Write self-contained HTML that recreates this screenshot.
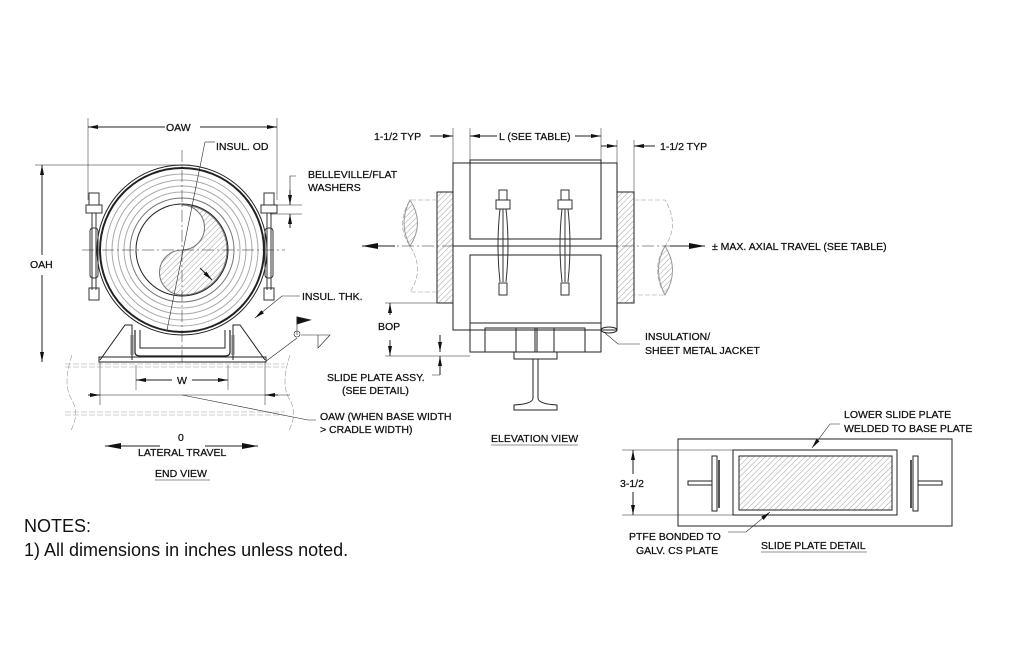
<!DOCTYPE html>
<html><head><meta charset="utf-8"><style>
html,body{margin:0;padding:0;background:#fff;}
svg{display:block;}
text{font-family:"Liberation Sans",sans-serif;font-size:10.5px;fill:#111;stroke:#111;stroke-width:0.25;}
.n{font-size:18px;fill:#111;stroke:none;}
</style></head><body>
<svg width="1024" height="662" viewBox="0 0 1024 662" xmlns="http://www.w3.org/2000/svg">
<defs>
<pattern id="h" width="4" height="4" patternUnits="userSpaceOnUse" patternTransform="rotate(45)">
<line x1="0" y1="0" x2="0" y2="4" stroke="#888" stroke-width="0.8"/></pattern>
<marker id="a" viewBox="0 0 10 4" refX="10" refY="2" markerWidth="10" markerHeight="4" orient="auto-start-reverse" markerUnits="userSpaceOnUse"><path d="M0,0 L10,2 L0,4z" fill="#111"/></marker>
<marker id="b" viewBox="0 0 16 6" refX="16" refY="3" markerWidth="16" markerHeight="6" orient="auto-start-reverse" markerUnits="userSpaceOnUse"><path d="M0,0 L16,3 L0,6z" fill="#111"/></marker>
</defs>
<g stroke="#222" fill="none" stroke-width="1">
<!-- END VIEW -->
<line x1="88" y1="118" x2="88" y2="200" stroke-width="0.5"/>
<line x1="277" y1="118" x2="277" y2="200" stroke-width="0.5"/>
<line x1="88" y1="127" x2="165" y2="127" marker-start="url(#a)"/>
<line x1="200" y1="127" x2="277" y2="127" marker-end="url(#a)"/>
<line x1="35" y1="165" x2="190" y2="165" stroke-width="0.5"/>
<line x1="42" y1="165" x2="42" y2="255" marker-start="url(#a)"/>
<line x1="42" y1="275" x2="42" y2="362" marker-end="url(#a)"/>
<circle cx="182" cy="250" r="85" stroke-width="1"/>
<circle cx="182" cy="250" r="82" stroke-width="2"/>
<circle cx="182" cy="250" r="76" stroke="#aaa"/>
<circle cx="182" cy="250" r="70" stroke="#aaa"/>
<circle cx="182" cy="250" r="64" stroke="#aaa"/>
<circle cx="182" cy="250" r="58" stroke="#aaa"/>
<circle cx="182" cy="250" r="52" stroke="#777"/>
<circle cx="182" cy="250" r="46"/>
<path d="M182,205 A45,45 0 0 1 182,295 A22,22 0 0 1 182,250 A22,22 0 0 0 182,205z" fill="url(#h)" stroke="#777"/>
<line x1="182" y1="150" x2="182" y2="365" stroke-width="0.5" stroke-dasharray="12,3,2,3"/>
<line x1="82" y1="250" x2="285" y2="250" stroke-width="0.5" stroke-dasharray="12,3,2,3"/>
<line x1="205" y1="142" x2="167" y2="330" stroke-width="0.6"/>
<line x1="205" y1="142" x2="215" y2="142" stroke-width="0.6"/>
<g stroke="#333">
<rect x="89" y="193" width="10" height="12"/><rect x="86" y="205" width="16" height="8"/>
<line x1="92" y1="213" x2="92" y2="290"/><line x1="96" y1="213" x2="96" y2="290"/>
<rect x="89" y="288" width="10" height="12"/><rect x="90" y="228" width="8" height="50" rx="3"/>
<rect x="264" y="193" width="10" height="12"/><rect x="261" y="205" width="16" height="8"/>
<line x1="267" y1="213" x2="267" y2="290"/><line x1="271" y1="213" x2="271" y2="290"/>
<rect x="264" y="288" width="10" height="12"/><rect x="265" y="228" width="8" height="50" rx="3"/>
</g>
<path d="M100,360 L125,325 L132,325 L132,360"/>
<path d="M265,360 L240,325 L233,325 L233,360"/>
<rect x="99" y="357" width="167" height="5"/>
<path d="M135,330 L135,352 Q135,356 140,356 L225,356 Q230,356 230,352 L230,330" stroke-width="1.2"/>
<path d="M140,330 L140,348 L225,348 L225,330"/>
<line x1="132" y1="335" x2="132" y2="355" stroke-width="3" stroke="#777"/>
<line x1="233" y1="335" x2="233" y2="355" stroke-width="3" stroke="#777"/>
<g stroke="#999" stroke-width="0.6" stroke-dasharray="6,2">
<line x1="65" y1="364" x2="285" y2="364"/><line x1="65" y1="367" x2="285" y2="367"/>
<line x1="65" y1="412" x2="285" y2="412"/><line x1="65" y1="415" x2="285" y2="415"/>
<path d="M72,355 Q62,385 72,400 Q80,415 70,432"/>
<path d="M290,355 Q280,385 290,400 Q298,415 288,432"/>
</g>
<line x1="136" y1="365" x2="136" y2="390" stroke-width="0.5"/>
<line x1="228" y1="365" x2="228" y2="390" stroke-width="0.5"/>
<line x1="136" y1="380" x2="172" y2="380" marker-start="url(#a)"/>
<line x1="192" y1="380" x2="228" y2="380" marker-end="url(#a)"/>
<line x1="100" y1="362" x2="100" y2="405" stroke-width="0.5"/>
<line x1="265" y1="362" x2="265" y2="405" stroke-width="0.5"/>
<line x1="88" y1="395" x2="290" y2="395" stroke-width="0.6"/>
<line x1="88" y1="395" x2="100" y2="395" marker-end="url(#a)"/>
<line x1="278" y1="395" x2="265" y2="395" marker-end="url(#a)"/>
<path d="M182,395 L308,420 L316,420" stroke-width="0.6"/>
<line x1="105" y1="446" x2="160" y2="446" marker-start="url(#b)"/>
<line x1="205" y1="446" x2="258" y2="446" marker-end="url(#b)"/>
<path d="M265,362 L297,338 M301,335 L330,335 L318,348 L318,335 M297,322 L297,335" stroke-width="0.6"/>
<circle cx="297" cy="334" r="3" stroke-width="0.6"/>
<path d="M297,317 L310,320 L297,324z" fill="#111"/>
<path d="M255,318 L282,296 L300,296" stroke-width="0.6" marker-start="url(#a)"/>
<line x1="200" y1="268" x2="212" y2="280" marker-end="url(#a)"/>
<path d="M290,190 L290,176 L296,176" stroke-width="0.6"/>
<line x1="270" y1="205" x2="302" y2="205" stroke-width="0.5"/>
<line x1="270" y1="214" x2="302" y2="214" stroke-width="0.5"/>
<line x1="290" y1="190" x2="290" y2="205" marker-end="url(#a)"/>
<line x1="290" y1="228" x2="290" y2="214" marker-end="url(#a)"/>

<!-- ELEVATION -->
<line x1="453" y1="128" x2="453" y2="163" stroke-width="0.5"/>
<line x1="470" y1="128" x2="470" y2="160" stroke-width="0.5"/>
<line x1="601" y1="128" x2="601" y2="160" stroke-width="0.5"/>
<line x1="617" y1="140" x2="617" y2="163" stroke-width="0.5"/>
<line x1="634" y1="140" x2="634" y2="192" stroke-width="0.5"/>
<line x1="430" y1="136" x2="453" y2="136" marker-end="url(#a)"/>
<line x1="470" y1="136" x2="497" y2="136" marker-start="url(#a)"/>
<line x1="575" y1="136" x2="601" y2="136" marker-end="url(#a)"/>
<line x1="601" y1="146" x2="617" y2="146" marker-end="url(#a)"/>
<line x1="655" y1="146" x2="634" y2="146" marker-end="url(#a)"/>
<rect x="453" y="163" width="164" height="167"/>
<rect x="470" y="160" width="131" height="79"/>
<rect x="470" y="255" width="131" height="75"/>
<rect x="437" y="192" width="16" height="111" fill="url(#h)"/>
<rect x="617" y="192" width="17" height="111" fill="url(#h)"/>
<g stroke="#999" stroke-width="0.6" stroke-dasharray="5,2">
<path d="M437,200 L410,200 Q395,225 410,246 Q425,270 410,292 L437,292"/>
<path d="M634,200 L665,200 Q680,225 665,246 Q650,270 665,295 L634,295"/>
</g>
<path d="M410,200 Q425,223 410,246 Q398,223 410,200z" fill="url(#h)" stroke="#999"/>
<path d="M665,246 Q680,270 665,295 Q652,270 665,246z" fill="url(#h)" stroke="#999"/>
<line x1="362" y1="246" x2="705" y2="246" stroke-width="0.5" stroke-dasharray="12,3,2,3"/>
<line x1="362" y1="246" x2="395" y2="246" marker-start="url(#b)"/>
<line x1="670" y1="246" x2="705" y2="246" marker-end="url(#b)"/>
<line x1="453" y1="246" x2="617" y2="246"/>
<g stroke="#333">
<rect x="499" y="190" width="8" height="10"/><rect x="496" y="200" width="14" height="9"/>
<path d="M500,209 Q496,245 500,282 M506,209 Q510,245 506,282"/><line x1="503" y1="209" x2="503" y2="282"/>
<rect x="499" y="283" width="8" height="12"/>
<rect x="561" y="190" width="8" height="10"/><rect x="558" y="200" width="14" height="9"/>
<path d="M562,209 Q558,245 562,282 M568,209 Q572,245 568,282"/><line x1="565" y1="209" x2="565" y2="282"/>
<rect x="561" y="283" width="8" height="12"/>
</g>
<rect x="470" y="323" width="131" height="29"/>
<rect x="485" y="328" width="100" height="24"/>
<rect x="516" y="328" width="38" height="24"/>
<line x1="535" y1="328" x2="535" y2="352"/><line x1="537" y1="328" x2="537" y2="352"/>
<rect x="514" y="352" width="43" height="7"/>
<path d="M533,359 L533,398 Q533,404 514,405 L514,410 L557,410 L557,405 Q538,404 538,398 L538,359"/>
<ellipse cx="609" cy="330" rx="8" ry="3"/>
<path d="M605,333 L618,344 L640,344" stroke-width="0.6"/>
<line x1="385" y1="303" x2="437" y2="303" stroke-width="0.5"/>
<line x1="385" y1="356" x2="470" y2="356" stroke-width="0.5"/>
<line x1="390" y1="303" x2="390" y2="315" marker-start="url(#a)"/>
<line x1="390" y1="340" x2="390" y2="356" marker-end="url(#a)"/>
<line x1="440" y1="335" x2="440" y2="352" marker-end="url(#a)"/>
<line x1="440" y1="375" x2="440" y2="356" marker-end="url(#a)"/>
<line x1="432" y1="375" x2="440" y2="375" stroke-width="0.5"/>

<!-- SLIDE DETAIL -->
<rect x="678" y="439" width="274" height="87"/>
<rect x="733" y="450" width="164" height="65"/>
<rect x="739" y="456" width="153" height="54" fill="url(#h)"/>
<rect x="712" y="456" width="5" height="55"/>
<line x1="719" y1="460" x2="719" y2="508" stroke-width="2" stroke="#555"/>
<rect x="688" y="481" width="24" height="4"/>
<rect x="913" y="456" width="5" height="55"/>
<line x1="911" y1="460" x2="911" y2="508" stroke-width="2" stroke="#555"/>
<rect x="918" y="481" width="24" height="4"/>
<line x1="622" y1="450" x2="733" y2="450" stroke-width="0.5"/>
<line x1="622" y1="515" x2="733" y2="515" stroke-width="0.5"/>
<line x1="633" y1="450" x2="633" y2="474" marker-start="url(#a)"/>
<line x1="633" y1="492" x2="633" y2="515" marker-end="url(#a)"/>
<path d="M840,424 L830,424 L812,448" stroke-width="0.6" marker-end="url(#a)"/>
<path d="M728,532 L746,532 L770,512" stroke-width="0.6" marker-end="url(#a)"/>
<line x1="155" y1="480" x2="210" y2="480" stroke-width="0.6"/>
<line x1="491" y1="445" x2="578" y2="445" stroke-width="0.6"/>
<line x1="761" y1="552" x2="867" y2="552" stroke-width="0.6"/>
</g>
<text x="166" y="131">OAW</text>
<text x="216" y="150">INSUL. OD</text>
<text x="308" y="178">BELLEVILLE/FLAT</text>
<text x="308" y="191">WASHERS</text>
<text x="30" y="268">OAH</text>
<text x="302" y="300">INSUL. THK.</text>
<text x="177" y="384">W</text>
<text x="178" y="441">0</text>
<text x="138" y="456">LATERAL TRAVEL</text>
<text x="155" y="477">END VIEW</text>
<text x="374" y="140">1-1/2 TYP</text>
<text x="499" y="140">L (SEE TABLE)</text>
<text x="660" y="150">1-1/2 TYP</text>
<text x="712" y="250">± MAX. AXIAL TRAVEL (SEE TABLE)</text>
<text x="378" y="330">BOP</text>
<text x="645" y="340">INSULATION/</text>
<text x="645" y="354">SHEET METAL JACKET</text>
<text x="327" y="381">SLIDE PLATE ASSY.</text>
<text x="342" y="394">(SEE DETAIL)</text>
<text x="320" y="420">OAW (WHEN BASE WIDTH</text>
<text x="320" y="433">&gt; CRADLE WIDTH)</text>
<text x="491" y="442">ELEVATION VIEW</text>
<text x="844" y="418">LOWER SLIDE PLATE</text>
<text x="844" y="432">WELDED TO BASE PLATE</text>
<text x="620" y="487">3-1/2</text>
<text x="629" y="540">PTFE BONDED TO</text>
<text x="636" y="554">GALV. CS PLATE</text>
<text x="761" y="549">SLIDE PLATE DETAIL</text>
<text class="n" x="24" y="532">NOTES:</text>
<text class="n" x="24" y="556">1) All dimensions in inches unless noted.</text>
</svg>
</body></html>
